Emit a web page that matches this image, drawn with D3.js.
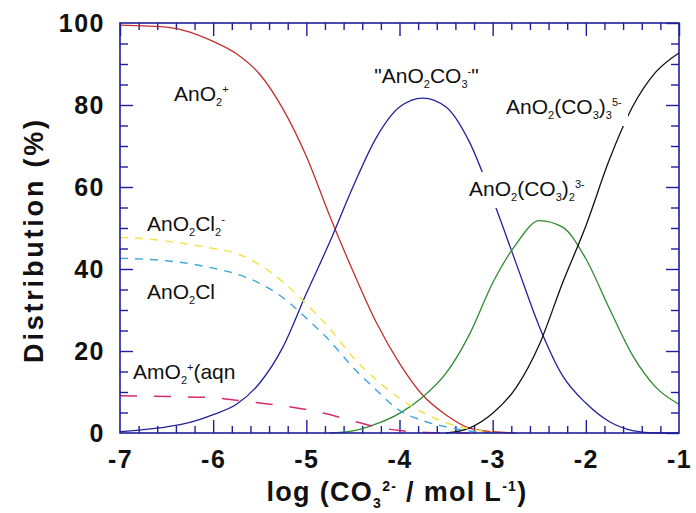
<!DOCTYPE html>
<html><head><meta charset="utf-8">
<script src="https://cdn.jsdelivr.net/npm/d3@7"></script>
<style>
html,body{margin:0;padding:0;background:#fff;}
svg{display:block;}
</style></head>
<body>
<svg id="chart" width="696" height="513"></svg>
<script>
// ---- data ----
const xTicks = [-7, -6, -5, -4, -3, -2, -1];
const yTicks = [0, 20, 40, 60, 80, 100];

const xAnO2 = [-7, -6.75, -6.5, -6.25, -6, -5.75, -5.5, -5.25, -5, -4.75, -4.5, -4.25, -4, -3.75, -3.5, -3.25, -3, -2.75];
const yAnO2 = [99.5, 99.3, 99, 97.8, 95.5, 92.5, 87.5, 79, 67.5, 53, 39.5, 27, 17, 9.2, 4.4, 1.2, 0.3, 0];

const xAnO2CO3 = [-7, -6.75, -6.5, -6.25, -6, -5.75, -5.5, -5.25, -5, -4.75, -4.5, -4.25, -4, -3.75, -3.5, -3.25, -3, -2.75, -2.5, -2.25, -2, -1.75, -1.5, -1.25, -1];
const yAnO2CO3 = [0.3, 0.8, 1.5, 2.6, 4.5, 7, 12.2, 21, 34, 46.5, 60, 72, 79.5, 81.7, 79.5, 71, 57, 41.5, 26, 14, 7.3, 2.8, 0.6, 0, 0];

const xAnO2CO3_2 = [-4.75, -4.5, -4.25, -4, -3.75, -3.5, -3.25, -3, -2.75, -2.5, -2.25, -2, -1.75, -1.5, -1.25, -1];
const yAnO2CO3_2 = [0, 0.5, 2.2, 4.8, 8.8, 14.6, 24, 36.6, 46, 51.8, 50.2, 42.5, 30.5, 19, 11.2, 7];

const xAnO2CO3_3 = [-3.5, -3.25, -3, -2.75, -2.5, -2.25, -2, -1.75, -1.5, -1.25, -1];
const yAnO2CO3_3 = [0, 1.2, 4.8, 11, 21.5, 36.6, 50.5, 66.5, 79.5, 88, 92.7];

const xAnO2Cl2 = [-7, -6.75, -6.5, -6.25, -6, -5.75, -5.5, -5.25, -5, -4.75, -4.5, -4.25, -4, -3.75, -3.5, -3.25, -3];
const yAnO2Cl2 = [47.7, 47.4, 46.8, 46, 45, 43.8, 41, 36.8, 31.5, 25.5, 18.5, 13, 8.5, 5, 2.5, 1, 0.2];

const xAnO2Cl = [-7, -6.75, -6.5, -6.25, -6, -5.75, -5.5, -5.25, -5, -4.75, -4.5, -4.25, -4, -3.75, -3.5, -3.25, -3];
const yAnO2Cl = [42.6, 42.4, 42, 41.3, 40.2, 38.8, 36.5, 33, 28, 22.5, 16, 10.5, 5.5, 3, 1.5, 0.5, 0];

const xAmO2aq = [-7, -6.5, -6, -5.75, -5.5, -5.25, -5, -4.75, -4.5, -4.25, -4, -3.75, -3.5, -3.25];
const yAmO2aq = [9.1, 8.9, 8.6, 8.0, 7.3, 6.6, 5.7, 4.5, 2.9, 1.5, 0.6, 0.2, 0.05, 0];

// ---- chart ----
const W = 696, H = 513;
const svg = d3.select('#chart');
const FONT = '"Liberation Sans", Arial, Helvetica, sans-serif';
const AXC = '#1e1e9c';

const x = d3.scaleLinear().domain([-7, -1]).range([120, 679]);
const y = d3.scaleLinear().domain([0, 100]).range([433, 23]);

const minorX = d3.range(-7, -1.0001, 0.2).map(v => +v.toFixed(1)).filter(v => !xTicks.includes(v));
const minorY = d3.range(0, 100.001, 5).filter(v => !yTicks.includes(v));

function styleAxis(g) {
  g.select('.domain').remove();
  g.selectAll('.tick line').attr('stroke', AXC).attr('stroke-width', 1.4);
}

// minor ticks (all four sides)
svg.append('g').attr('transform', `translate(0,${y(0)})`)
  .call(d3.axisBottom(x).tickValues(minorX).tickSize(-7).tickFormat(''))
  .call(styleAxis);
svg.append('g').attr('transform', `translate(0,${y(100)})`)
  .call(d3.axisTop(x).tickValues(minorX).tickSize(-7).tickFormat(''))
  .call(styleAxis);
svg.append('g').attr('transform', `translate(${x(-7)},0)`)
  .call(d3.axisLeft(y).tickValues(minorY).tickSize(-8).tickFormat(''))
  .call(styleAxis);
svg.append('g').attr('transform', `translate(${x(-1)},0)`)
  .call(d3.axisRight(y).tickValues(minorY).tickSize(-8).tickFormat(''))
  .call(styleAxis);

// major ticks
const gxB = svg.append('g').attr('transform', `translate(0,${y(0)})`)
  .call(d3.axisBottom(x).tickValues(xTicks).tickSize(-13).tickPadding(17).tickFormat(d => String(d)))
  .call(styleAxis);
svg.append('g').attr('transform', `translate(0,${y(100)})`)
  .call(d3.axisTop(x).tickValues(xTicks).tickSize(-13).tickFormat(''))
  .call(styleAxis);
const gyL = svg.append('g').attr('transform', `translate(${x(-7)},0)`)
  .call(d3.axisLeft(y).tickValues(yTicks).tickSize(-13).tickPadding(15).tickFormat(d => String(d)))
  .call(styleAxis);
svg.append('g').attr('transform', `translate(${x(-1)},0)`)
  .call(d3.axisRight(y).tickValues(yTicks).tickSize(-13).tickFormat(''))
  .call(styleAxis);

[gxB, gyL].forEach(g => g.selectAll('.tick text')
  .attr('font-family', FONT).attr('font-weight', 'bold').attr('font-size', 25)
  .attr('fill', '#111').style('letter-spacing', '1.5px'));
gxB.selectAll('.tick').filter(d => d === -7 || d === -1).select('line').remove();
gyL.selectAll('.tick').filter(d => d === 0 || d === 100).select('line').remove();

// curves
const series = [
  {xs: xAnO2, ys: yAnO2, color: '#c0302e', dash: null, w: 1.3},
  {xs: xAnO2CO3, ys: yAnO2CO3, color: '#22229a', dash: null, w: 1.3},
  {xs: xAnO2CO3_2, ys: yAnO2CO3_2, color: '#2f8a30', dash: null, w: 1.3},
  {xs: xAnO2CO3_3, ys: yAnO2CO3_3, color: '#111111', dash: null, w: 1.3},
  {xs: xAnO2Cl2, ys: yAnO2Cl2, color: '#f2e24e', dash: '8,7', w: 1.5},
  {xs: xAnO2Cl, ys: yAnO2Cl, color: '#3fa6d6', dash: '8,7', w: 1.4},
  {xs: xAmO2aq, ys: yAmO2aq, color: '#d62a6e', dash: '17,17', w: 1.5}
];
const line = d3.line().x(d => x(d[0])).y(d => y(d[1])).curve(d3.curveMonotoneX);
const plot = svg.append('g');
series.forEach(s => {
  plot.append('path')
    .attr('d', line(s.xs.map((v, i) => [v, s.ys[i]])))
    .attr('fill', 'none').attr('stroke', s.color).attr('stroke-width', s.w)
    .attr('stroke-dasharray', s.dash);
});

// frame
svg.append('rect').attr('x', x(-7)).attr('y', y(100))
  .attr('width', x(-1) - x(-7)).attr('height', y(0) - y(100))
  .attr('fill', 'none').attr('stroke', AXC).attr('stroke-width', 1.6);

// rich text helper
function rich(sel, parts, fs, opts) {
  let cur = 0;
  parts.forEach(([t, k]) => {
    const target = k === 'sub' ? opts.sub : k === 'sup' ? opts.sup : 0;
    sel.append('tspan').attr('dy', target - cur)
      .attr('font-size', k === 'n' ? fs : opts.small)
      .text(t);
    cur = target;
  });
}

// in-plot labels (positions in data units)
const labels = [
  {at: [-6.42, 81], parts: [['AnO', 'n'], ['2', 'sub'], ['+', 'sup']], bg: false},
  {at: [-4.27, 85.4], parts: [['"AnO', 'n'], ['2', 'sub'], ['CO', 'n'], ['3', 'sub'], ['-', 'sup'], ['"', 'n']], bg: false},
  {at: [-2.857, 77.8], parts: [['AnO', 'n'], ['2', 'sub'], ['(CO', 'n'], ['3', 'sub'], [')', 'n'], ['3', 'sub'], ['5-', 'sup']], bg: true},
  {at: [-3.254, 57.8], parts: [['AnO', 'n'], ['2', 'sub'], ['(CO', 'n'], ['3', 'sub'], [')', 'n'], ['2', 'sub'], ['3-', 'sup']], bg: true},
  {at: [-6.71, 49.3], parts: [['AnO', 'n'], ['2', 'sub'], ['Cl', 'n'], ['2', 'sub'], ['-', 'sup']], bg: false},
  {at: [-6.71, 32.7], parts: [['AnO', 'n'], ['2', 'sub'], ['Cl', 'n']], bg: false},
  {at: [-6.86, 13.2], parts: [['AmO', 'n'], ['2', 'sub'], ['+', 'sup'], ['(aqn', 'n']], bg: false}
];
const lg = svg.append('g');
labels.forEach(L => {
  const g = lg.append('g');
  const t = g.append('text').attr('x', x(L.at[0])).attr('y', y(L.at[1]))
    .attr('font-family', FONT).attr('font-size', 21).attr('fill', '#111');
  rich(t, L.parts, 21, {sub: 5, sup: -8, small: 11});
  if (L.bg) {
    const b = t.node().getBBox();
    g.insert('rect', 'text').attr('x', b.x - 4).attr('y', b.y - 5)
      .attr('width', b.width + 10).attr('height', b.height + 10).attr('fill', '#fff');
  }
});

// axis titles
const xt = svg.append('text').attr('x', 397).attr('y', 501).attr('text-anchor', 'middle')
  .attr('font-family', FONT).attr('font-weight', 'bold').attr('font-size', 27)
  .attr('fill', '#111').style('letter-spacing', '1.3px');
rich(xt, [['log (CO', 'n'], ['3', 'sub'], ['2-', 'sup'], [' / mol L', 'n'], ['-1', 'sup'], [')', 'n']], 27, {sub: 7, sup: -10, small: 14});

svg.append('text').attr('transform', 'translate(43,240) rotate(-90)')
  .attr('text-anchor', 'middle')
  .attr('font-family', FONT).attr('font-weight', 'bold').attr('font-size', 27)
  .attr('fill', '#111').style('letter-spacing', '2.8px')
  .text('Distribution (%)');
</script>
</body></html>
